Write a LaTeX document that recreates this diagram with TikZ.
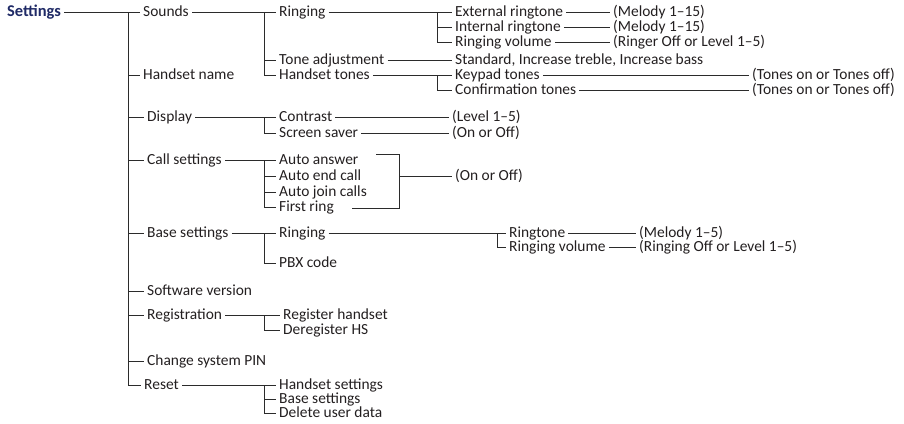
\documentclass[tikz,border=0pt]{standalone}
\usepackage{fontspec}
\setmainfont{Carlito}
\usepackage{tikz}
\usetikzlibrary{calc}
\definecolor{ink}{HTML}{231F20}
\definecolor{wire}{HTML}{2B2B2B}
\definecolor{navy}{HTML}{1F2A66}
\begin{document}
\begin{tikzpicture}[x=1bp, y=-1bp, font=\fontsize{15.5}{18}\selectfont,
    item/.style={anchor=west, inner xsep=3bp, inner ysep=0pt,
      text height=11.5bp, text depth=3bp, text=ink},
    head/.style={item, font=\fontsize{16.5}{18}\selectfont\bfseries, text=navy},
    link/.style={draw=wire, line width=1bp},
  ]
  \useasboundingbox (0,0) rectangle (904,423);
  % x positions of the vertical bracket bars
  \coordinate (trunk) at (128,0);
  \coordinate (brkB) at (264,0);
  \coordinate (brkC) at (437,0);
  \coordinate (brkD) at (497,0);

  % Root and first menu level on the main trunk.
  \node[head] (settings) at (4,12) {Settings};
  \node[item] (sounds) at (140,12) {Sounds};
  \node[item] (hname) at (140,75) {Handset name};
  \node[item] (display) at (144,117) {Display};
  \node[item] (calls) at (144,160) {Call settings};
  \node[item] (base) at (144,233) {Base settings};
  \node[item] (software) at (144,291) {Software version};
  \node[item] (regist) at (144,315) {Registration};
  \node[item] (pin) at (144,361) {Change system PIN};
  \node[item] (reset) at (141,385) {Reset};
  \draw[link] (settings.east) -- (sounds.west);
  \draw[link] (sounds.west -| trunk) |- (reset.west);
  \foreach \n in {hname,display,calls,base,software,regist,pin}
    \draw[link] (\n.west -| trunk) -- (\n.west);

  % Sounds
  \node[item] (ringing) at (276,12) {Ringing};
  \node[item] (toneadj) at (276,60) {Tone adjustment};
  \node[item] (htones) at (276,75) {Handset tones};
  \draw[link] (sounds.east) -- (ringing.west);
  \draw[link] (ringing.west -| brkB) |- (htones.west);
  \draw[link] (toneadj.west -| brkB) -- (toneadj.west);

  % Sounds > Ringing
  \node[item] (extring) at (452,12) {External ringtone};
  \node[item] (intring) at (452,27) {Internal ringtone};
  \node[item] (ringvol) at (452,42) {Ringing volume};
  \draw[link] (ringing.east) -- (extring.west);
  \draw[link] (extring.west -| brkC) |- (ringvol.west);
  \draw[link] (intring.west -| brkC) -- (intring.west);
  \node[item] (melA) at (610,12) {(Melody 1--15)};
  \node[item] (melB) at (610,27) {(Melody 1--15)};
  \node[item] (ringoff) at (610,42) {(Ringer Off or Level 1--5)};
  \draw[link] (extring.east) -- (melA.west);
  \draw[link] (intring.east) -- (melB.west);
  \draw[link] (ringvol.east) -- (ringoff.west);

  % Sounds > Tone adjustment
  \node[item] (toneval) at (452,60) {Standard, Increase treble, Increase bass};
  \draw[link] (toneadj.east) -- (toneval.west);

  % Sounds > Handset tones
  \node[item] (keypad) at (452,75) {Keypad tones};
  \node[item] (confirm) at (452,90) {Confirmation tones};
  \draw[link] (htones.east) -- (keypad.west);
  \draw[link] (keypad.west -| brkC) |- (confirm.west);
  \node[item] (kpval) at (749,75) {(Tones on or Tones off)};
  \node[item] (cfval) at (749,90) {(Tones on or Tones off)};
  \draw[link] (keypad.east) -- (kpval.west);
  \draw[link] (confirm.east) -- (cfval.west);

  % Display
  \node[item] (contrast) at (276,117) {Contrast};
  \node[item] (saver) at (276,133) {Screen saver};
  \draw[link] (display.east) -- (contrast.west);
  \draw[link] (contrast.west -| brkB) |- (saver.west);
  \node[item] (lvl) at (449,117) {(Level 1--5)};
  \node[item] (onoffA) at (449,133) {(On or Off)};
  \draw[link] (contrast.east) -- (lvl.west);
  \draw[link] (saver.east) -- (onoffA.west);

  % Call settings: four switches share one value
  \node[item] (autoans) at (276,160) {Auto answer};
  \node[item] (autoend) at (276,176) {Auto end call};
  \node[item] (autojoin) at (276,192) {Auto join calls};
  \node[item] (firstring) at (276,207) {First ring};
  \draw[link] (calls.east) -- (autoans.west);
  \draw[link] (autoans.west -| brkB) |- (firstring.west);
  \foreach \n in {autoend,autojoin}
    \draw[link] (\n.west -| brkB) -- (\n.west);
  \coordinate (ansEnd) at (376,154);
  \coordinate (ringEnd) at (352,208);
  \coordinate (cbTop) at (399,154);
  \coordinate (cbBot) at (399,208);
  \node[item] (onoffB) at (452,176) {(On or Off)};
  \draw[link] (ansEnd) -- (cbTop) -- (cbBot) -- (ringEnd);
  \draw[link] (cbTop |- autoend.west) -- (onoffB.west);

  % Base settings
  \node[item] (bring) at (276,233) {Ringing};
  \node[item] (pbx) at (276,263) {PBX code};
  \draw[link] (base.east) -- (bring.west);
  \draw[link] (bring.west -| brkB) |- (pbx.west);
  \node[item] (btone) at (506,233) {Ringtone};
  \node[item] (bvol) at (506,247) {Ringing volume};
  \draw[link] (bring.east) -- (btone.west);
  \draw[link] (btone.west -| brkD) |- (bvol.west);
  \node[item] (melC) at (636,233) {(Melody 1--5)};
  \node[item] (rvoff) at (636,247) {(Ringing Off or Level 1--5)};
  \draw[link] (btone.east) -- (melC.west);
  \draw[link] (bvol.east) -- (rvoff.west);

  % Registration
  \node[item] (reghs) at (280,315) {Register handset};
  \node[item] (dereg) at (280,330) {Deregister HS};
  \draw[link] (regist.east) -- (reghs.west);
  \draw[link] (reghs.west -| brkB) |- (dereg.west);

  % Reset
  \node[item] (hsset) at (276,385) {Handset settings};
  \node[item] (bset) at (276,399) {Base settings};
  \node[item] (deldata) at (276,413) {Delete user data};
  \draw[link] (reset.east) -- (hsset.west);
  \draw[link] (hsset.west -| brkB) |- (deldata.west);
  \draw[link] (bset.west -| brkB) -- (bset.west);
\end{tikzpicture}
\end{document}
